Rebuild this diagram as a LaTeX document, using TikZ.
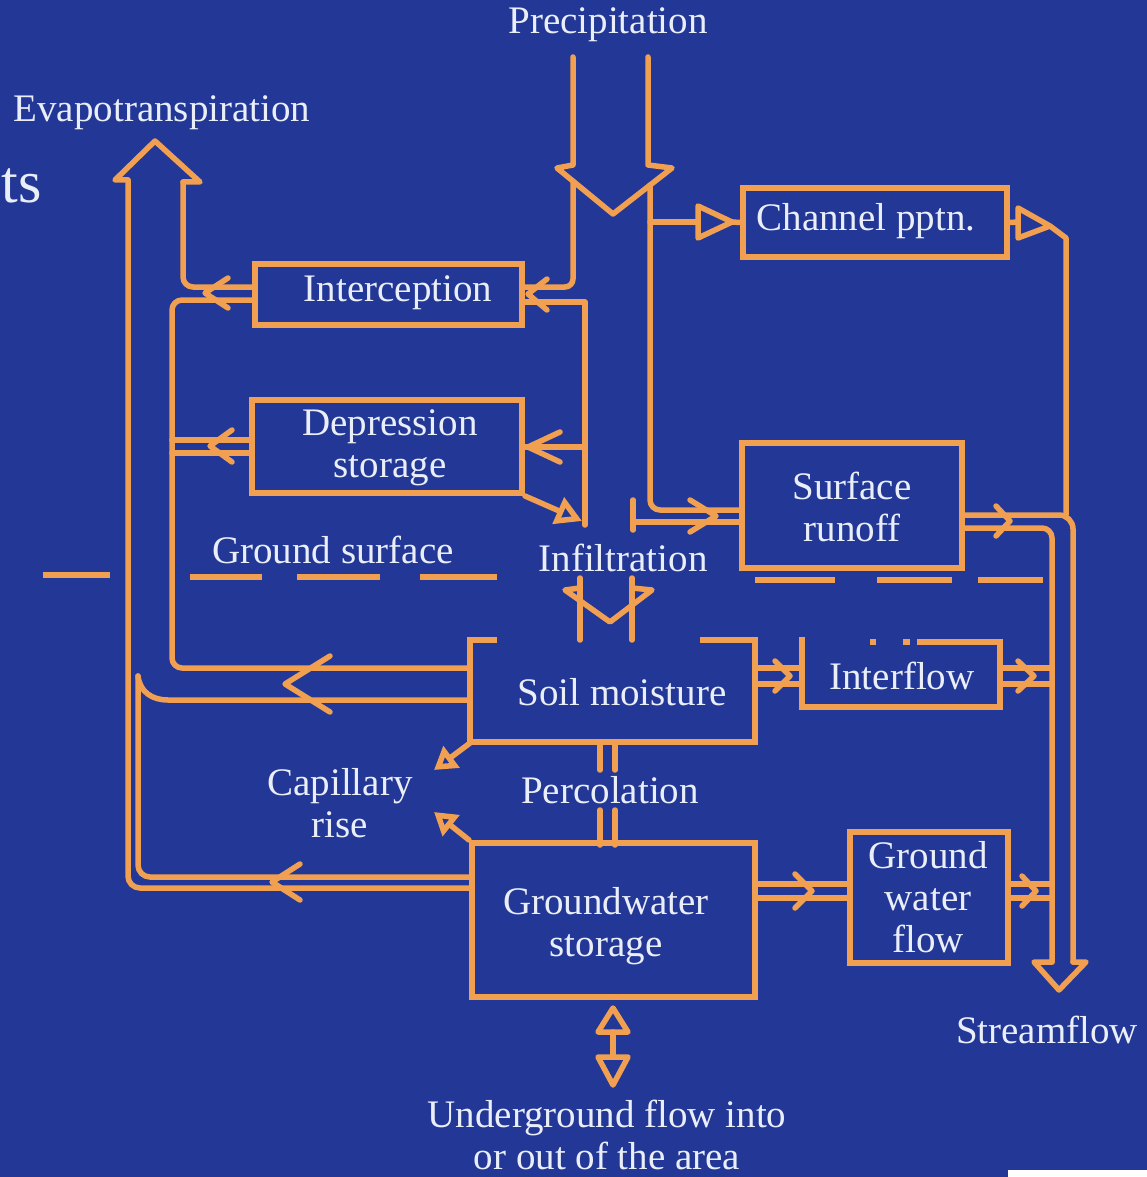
\documentclass[tikz,border=0pt]{standalone}
\usepackage{fontspec}
\setmainfont{Liberation Serif}
\usetikzlibrary{arrows.meta}
\definecolor{bg}{RGB}{35,56,150}
\definecolor{org}{RGB}{240,160,80}
\definecolor{txt}{RGB}{234,238,248}
\begin{document}
\begin{tikzpicture}[x=1pt,y=-1pt,
  pipe/.style={draw=org, line width=5.5pt, line cap=round, line join=round},
  boxline/.style={draw=org, line width=6pt, line join=miter},
  lbl/.style={text=txt, font=\fontsize{39}{42}\selectfont, align=center, inner sep=0pt},
  box/.style={boxline, inner sep=0pt, minimum width=#1},
  captip/.style={-{Triangle[open,length=22pt,width=26pt]}}]
\fill[bg] (0,0) rectangle (1147,1177);
\useasboundingbox (0,0) rectangle (1147,1177);
\fill[white] (1008,1170) rectangle (1147,1177);

% ---------- boxes ----------
\node[box=267pt, minimum height=61pt] (inter) at (388.5,294.5) {};
\node[lbl] (intert) at (398,293) {Interception};
\node[box=270pt, minimum height=93pt] (dep) at (387,446.5) {};
\node[lbl] (dept) at (390,448) {Depression\\storage};
\node[box=264pt, minimum height=69pt] (chan) at (875,222.5) {};
\node[lbl] (chant) at (866,221) {Channel pptn.};
\node[box=220pt, minimum height=125pt] (surf) at (852,505.5) {};
\node[lbl] (surft) at (852,507) {Surface\\runoff};
\node[box=283pt, minimum height=154pt] (gw) at (613.5,920) {};
\node[lbl] (gwt) at (606,926) {Groundwater\\storage};
\node[box=158pt, minimum height=131pt] (gwf) at (929,897.5) {};
\node[lbl] (gwft) at (928,897) {Ground\\water\\flow};
% soil moisture (top edge open for infiltration)
\node[lbl] (soil) at (622,692) {Soil moisture};
\draw[boxline] (497,640) -- (470,640) -- (470,742) -- (755,742) -- (755,640) -- (700,640);
% interflow (broken top edge)
\node[lbl] (intf) at (902,676) {Interflow};
\draw[boxline] (917,642) -- (1000,642) -- (1000,707) -- (802,707) -- (802,637);
\fill[org] (870,639) rectangle (876,645);
\fill[org] (903,639) rectangle (910,645);

% ---------- labels ----------
\node[lbl] (prec) at (608,25) {Precipitation};
\node[lbl] (evap) at (162,113) {Evapotranspiration};
\node[lbl, font=\fontsize{60}{62}\selectfont, anchor=east] (ts) at (42,186) {ts};
\node[lbl] (gsurf) at (333,550) {Ground surface};
\node[lbl] (infil) at (623,558) {Infiltration};
\node[lbl] (cap) at (340,803) {Capillary\\rise};
\node[lbl] (perc) at (610,790) {Percolation};
\node[lbl] (stream) at (1047,1030) {Streamflow};
\node[lbl] (under) at (607,1135) {Underground flow into\\or out of the area};

% ---------- ground surface ----------
\foreach \a/\b/\y in {43/110/575,190/262/577,297/380/577,420/497/577,755/835/580,877/952/580,978/1043/580}
  \draw[pipe, line cap=butt] (\a,\y) -- (\b,\y);

% ---------- precipitation ----------
\draw[pipe] (573,57) -- (573,165) -- (557,168) -- (613,214) -- (672,168) -- (648,165) -- (648,57);
% left branch -> interception
\draw[pipe, rounded corners=8pt] (573,181) -- (573,287) -- (inter.east |- 0,287);
\draw[pipe] (inter.east |- 0,302) -- (585,302) -- (585,525);
\draw[pipe] (547,279) -- (528,294) -- (547,310);
% -> depression storage
\draw[pipe] (dep.east |- 0,447) -- (585,447);
\draw[pipe] (560,432) -- (528,447) -- (560,462);
\draw[pipe, -{Triangle[open,length=26pt,width=28pt]}] (dep.south east) -- (582,521);
% right branch -> surface runoff
\draw[pipe, rounded corners=10pt] (650,185) -- (650,510) -- (surf.west |- 0,510);
\draw[pipe] (633,500) -- (633,530);
\draw[pipe] (633,522) -- (surf.west |- 0,522);
\draw[pipe] (690,500) -- (716,516) -- (690,532);
% -> channel pptn
\draw[pipe] (650,222) -- (698,222);
\draw[pipe] (698,206) -- (698,238) -- (732,222) -- cycle;
\draw[pipe] (732,222) -- (chan.west);
% channel -> streamflow
\draw[pipe] (chan.east) -- (1018,222);
\draw[pipe] (1018,208) -- (1018,238) -- (1050,226) -- cycle;
\draw[pipe] (1050,226) -- (1066,238) -- (1066,515);
% surface runoff -> streamflow
\draw[pipe, rounded corners=14pt] (surf.east |- 0,515) -- (1073,515) -- (1073,962);
\draw[pipe, rounded corners=10pt] (surf.east |- 0,528) -- (1052,528) -- (1052,962);
\draw[pipe] (996,506) -- (1010,521) -- (996,536);
\draw[pipe] (1052,962) -- (1034,962) -- (1059,990) -- (1086,962) -- (1073,962);

% ---------- infiltration ----------
\draw[pipe] (580,578) -- (580,640);
\draw[pipe] (632,578) -- (632,640);
\draw[pipe] (580,588) -- (565,590) -- (610,622) -- (652,590) -- (632,588);

% ---------- soil -> interflow -> stream ----------
\draw[pipe] (755,668) -- (802,668);
\draw[pipe] (755,684) -- (802,684);
\draw[pipe] (775,661) -- (790,676) -- (775,691);
\draw[pipe] (1000,668) -- (1052,668);
\draw[pipe] (1000,684) -- (1052,684);
\draw[pipe] (1018,661) -- (1034,676) -- (1018,691);

% ---------- groundwater -> gw flow -> stream ----------
\draw[pipe] (gw.east |- 0,884) -- (gwf.west |- 0,884);
\draw[pipe] (gw.east |- 0,898) -- (gwf.west |- 0,898);
\draw[pipe] (795,874) -- (812,891) -- (795,908);
\draw[pipe] (gwf.east |- 0,884) -- (1052,884);
\draw[pipe] (gwf.east |- 0,898) -- (1052,898);
\draw[pipe] (1022,876) -- (1036,891) -- (1022,906);

% ---------- percolation ----------
\draw[pipe] (600,742) -- (600,770);
\draw[pipe] (615,742) -- (615,770);
\draw[pipe] (600,810) -- (600,845);
\draw[pipe] (615,810) -- (615,845);

% ---------- capillary rise ----------
\draw[pipe, captip] (470,743) -- (434,770);
\draw[pipe, captip] (gw.north west) -- (434,812);

% ---------- underground flow ----------
\draw[pipe] (613,1032) -- (613,1057);
\draw[pipe] (613,1008) -- (628,1032) -- (598,1032) -- cycle;
\draw[pipe] (598,1057) -- (628,1057) -- (613,1085) -- cycle;

% ---------- evapotranspiration ----------
\draw[pipe] (128,180) -- (115,180) -- (155,141) -- (200,182) -- (183,182);
\draw[pipe, rounded corners=10pt] (183,182) -- (183,287) -- (inter.west |- 0,287);
\draw[pipe, rounded corners=10pt] (inter.west |- 0,300) -- (172,300) -- (172,668) -- (470,668);
\draw[pipe] (228,278) -- (205,293) -- (228,308);
\draw[pipe] (172,440) -- (dep.west |- 0,440);
\draw[pipe] (172,453) -- (dep.west |- 0,453);
\draw[pipe] (232,430) -- (210,446) -- (232,462);
\draw[pipe] (470,700) -- (168,700) .. controls (152,700) and (140,692) .. (138,676);
\draw[pipe, rounded corners=12pt] (138,676) -- (138,877) -- (gw.west |- 0,877);
\draw[pipe, rounded corners=12pt] (128,180) -- (128,888) -- (gw.west |- 0,888);
\draw[pipe] (330,656) -- (285,684) -- (330,712);
\draw[pipe] (300,864) -- (272,882) -- (300,900);
\end{tikzpicture}
\end{document}
